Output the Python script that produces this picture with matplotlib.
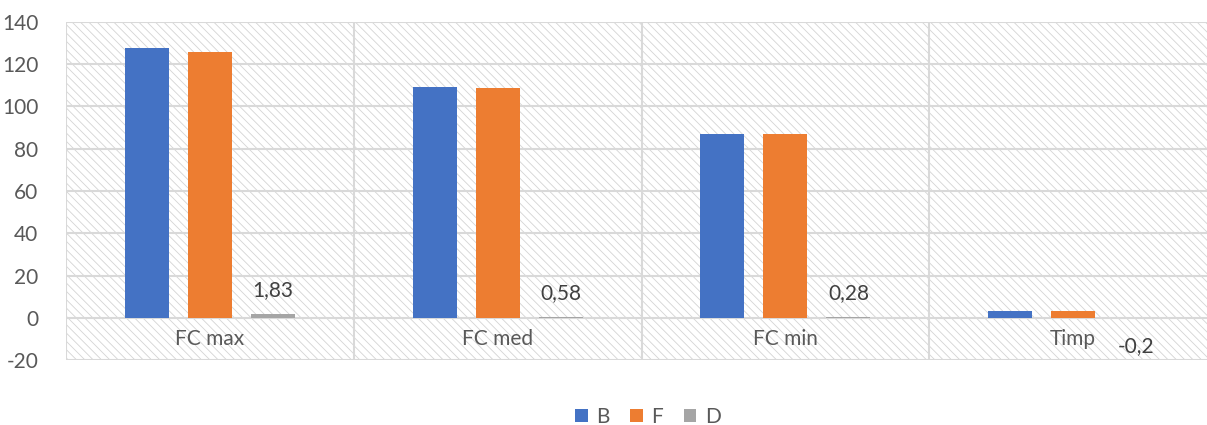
import matplotlib
matplotlib.use("Agg")
import matplotlib.pyplot as plt
from matplotlib.patches import Rectangle, Patch
import numpy as np

categories = ["FC max", "FC med", "FC min", "Timp"]
series_names = ["B", "F", "D"]
B = [127.7, 109.3, 87.0, 3.3]
F = [125.9, 108.8, 87.0, 3.3]
D = [1.83, 0.58, 0.28, -0.2]
D_labels = ["1,83", "0,58", "0,28", "-0,2"]
colors = ["#4472C4", "#ED7D31", "#A5A5A5"]
yticks = [-20, 0, 20, 40, 60, 80, 100, 120, 140]

plt.rcParams['font.family'] = ['Lato', 'DejaVu Sans']
plt.rcParams['hatch.linewidth'] = 0.6
plt.rcParams['hatch.color'] = '#d4d4d4'

FS = 15
W, H = 1207, 425
fig = plt.figure(figsize=(W/100, H/100), dpi=100)
left, right, top, bottom = 66, 1217, 22, 360
ax = fig.add_axes([left/W, 1-bottom/H, (right-left)/W, (bottom-top)/H])
ax.set_xlim(-0.5, 3.5)
ax.set_ylim(-20, 140)

bg = Rectangle((0, 0), 1, 1, transform=ax.transAxes, facecolor='white',
               edgecolor='#d4d4d4', hatch='\\\\\\\\', linewidth=0, zorder=0)
ax.add_patch(bg)

grid_c = '#d9d9d9'
for y in yticks:
    ax.axhline(y, color=grid_c, lw=1.5, zorder=1)
for x in np.arange(-0.5, 4.0, 1.0):
    ax.axvline(x, color=grid_c, lw=1.5, zorder=1)

x = np.arange(len(categories))
bw = 0.153
off = 0.219
for i, (vals, c) in enumerate(zip([B, F, D], colors)):
    ax.bar(x + (i-1)*off, vals, width=bw, color=c, zorder=3)

for xi, v, lab in zip(x, D, D_labels):
    if v >= 0:
        ax.annotate(lab, (xi + off, v), xytext=(0, 10), textcoords='offset points',
                    ha='center', va='bottom', fontsize=FS, color='#404040', zorder=4)
    else:
        ax.annotate(lab, (xi + off, v), xytext=(0, -13), textcoords='offset points',
                    ha='center', va='top', fontsize=FS, color='#404040', zorder=4)

for xi, c in zip(x, categories):
    ax.text(xi, -10, c, ha='center', va='center', fontsize=FS, color='#595959', zorder=4)

ax.set_yticks(yticks)
ax.set_yticklabels([str(t) for t in yticks], fontsize=FS, color='#595959')
ax.tick_params(axis='y', length=0, pad=20)
ax.set_xticks([])
for s in ax.spines.values():
    s.set_visible(False)

handles = [Patch(facecolor=c, edgecolor='none') for c in colors]
fig.legend(handles, series_names, loc='center', bbox_to_anchor=(648/W, 1-417/H),
           ncol=3, frameon=False, fontsize=FS, handlelength=0.6, handleheight=0.6,
           handletextpad=0.4, columnspacing=1.0, labelcolor='#595959')

fig.savefig("out.png", dpi=100)
